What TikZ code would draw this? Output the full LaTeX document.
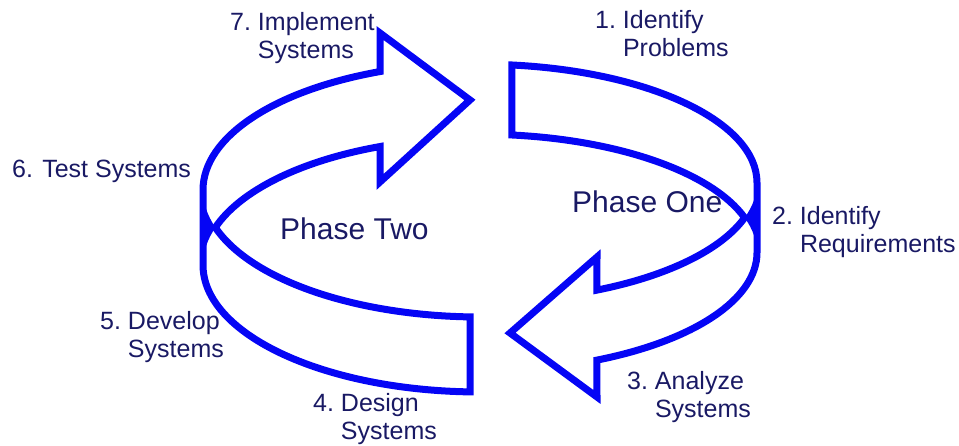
\documentclass[tikz,border=0pt]{standalone}
\usepackage{fontspec}
\setmainfont{Liberation Sans}
\definecolor{ribbonblue}{RGB}{5,5,245}
\definecolor{labelnavy}{RGB}{25,25,100}
\tikzset{
  ribbon/.style={draw=ribbonblue, line width=7pt, line join=miter},
  seam/.style={fill=ribbonblue},
  steplabel/.style={anchor=base west, inner sep=0pt, text=labelnavy, font=\fontsize{25}{28}\selectfont},
  phaselabel/.style={anchor=base west, inner sep=0pt, text=labelnavy, font=\fontsize{30}{34}\selectfont}
}
\begin{document}
\begin{tikzpicture}[x=1pt, y=1pt]
                \useasboundingbox (0,0) rectangle (959,446);
                \draw [ribbon] ([shift={(480,256)}]111.16:277pt and 127pt)
                    arc [start angle=111.16, end angle=180, x radius=277pt, y radius=127pt] -- ++(0,-75)
                    arc [start angle=180, end angle=267.93, x radius=277pt, y radius=127pt] -- ++(0,75)
                    arc [start angle=267.93, end angle=197.17, x radius=277pt, y radius=127pt]
                    arc [start angle=162.83, end angle=111.16, x radius=277pt, y radius=127pt]
                    -- (380,264) -- (470,346) -- (380,413) -- cycle;
                \fill [seam] ([shift={(480,256)}]197.17:277pt and 127pt)
                    arc [start angle=197.17, end angle=180, x radius=277pt, y radius=127pt] -- ++(0,-75)
                    arc [start angle=180, end angle=162.83, x radius=277pt, y radius=127pt] -- cycle;
                \draw [ribbon] ([shift={(480,263.3)}]83.37:277pt and 118.5pt)
                    arc [start angle=83.37, end angle=0, x radius=277pt, y radius=118.5pt] -- ++(0,-70)
                    arc [start angle=0, end angle=-65.04, x radius=277pt, y radius=118.5pt]
                    -- (597,49) -- (510,113) -- (597,189)
                    -- ([shift={(480,263.3)}]-65.04:277pt and 118.5pt)
                    arc [start angle=-65.04, end angle=-17.18, x radius=277pt, y radius=118.5pt]
                    arc [start angle=17.18, end angle=83.37, x radius=277pt, y radius=118.5pt] -- cycle;
                \fill [seam] ([shift={(480,263.3)}]-17.18:277pt and 118.5pt)
                    arc [start angle=-17.18, end angle=0, x radius=277pt, y radius=118.5pt] -- ++(0,-70)
                    arc [start angle=0, end angle=17.18, x radius=277pt, y radius=118.5pt] -- cycle;
                \node [steplabel] (implement) at (230,415) {\begin{tabular}[t]{@{}l@{\ }l@{}}7. & Implement\\ & Systems\end{tabular}};
                \node [steplabel] (problems) at (595,417) {\begin{tabular}[t]{@{}l@{\ }l@{}}1. & Identify\\ & Problems\end{tabular}};
                \node [steplabel] (test) at (12,268) {6. Test Systems};
                \node [steplabel] (requirements) at (772,221) {\begin{tabular}[t]{@{}l@{\ }l@{}}2. & Identify\\ & Requirements\end{tabular}};
                \node [steplabel] (develop) at (100,116) {\begin{tabular}[t]{@{}l@{\ }l@{}}5. & Develop\\ & Systems\end{tabular}};
                \node [steplabel] (analyze) at (627,56) {\begin{tabular}[t]{@{}l@{\ }l@{}}3. & Analyze\\ & Systems\end{tabular}};
                \node [steplabel] (design) at (313,34) {\begin{tabular}[t]{@{}l@{\ }l@{}}4. & Design\\ & Systems\end{tabular}};
                \node [phaselabel] (phasetwo) at (280,206) {Phase Two};
                \node [phaselabel] (phaseone) at (572,233) {Phase One};
            \end{tikzpicture}
\end{document}
